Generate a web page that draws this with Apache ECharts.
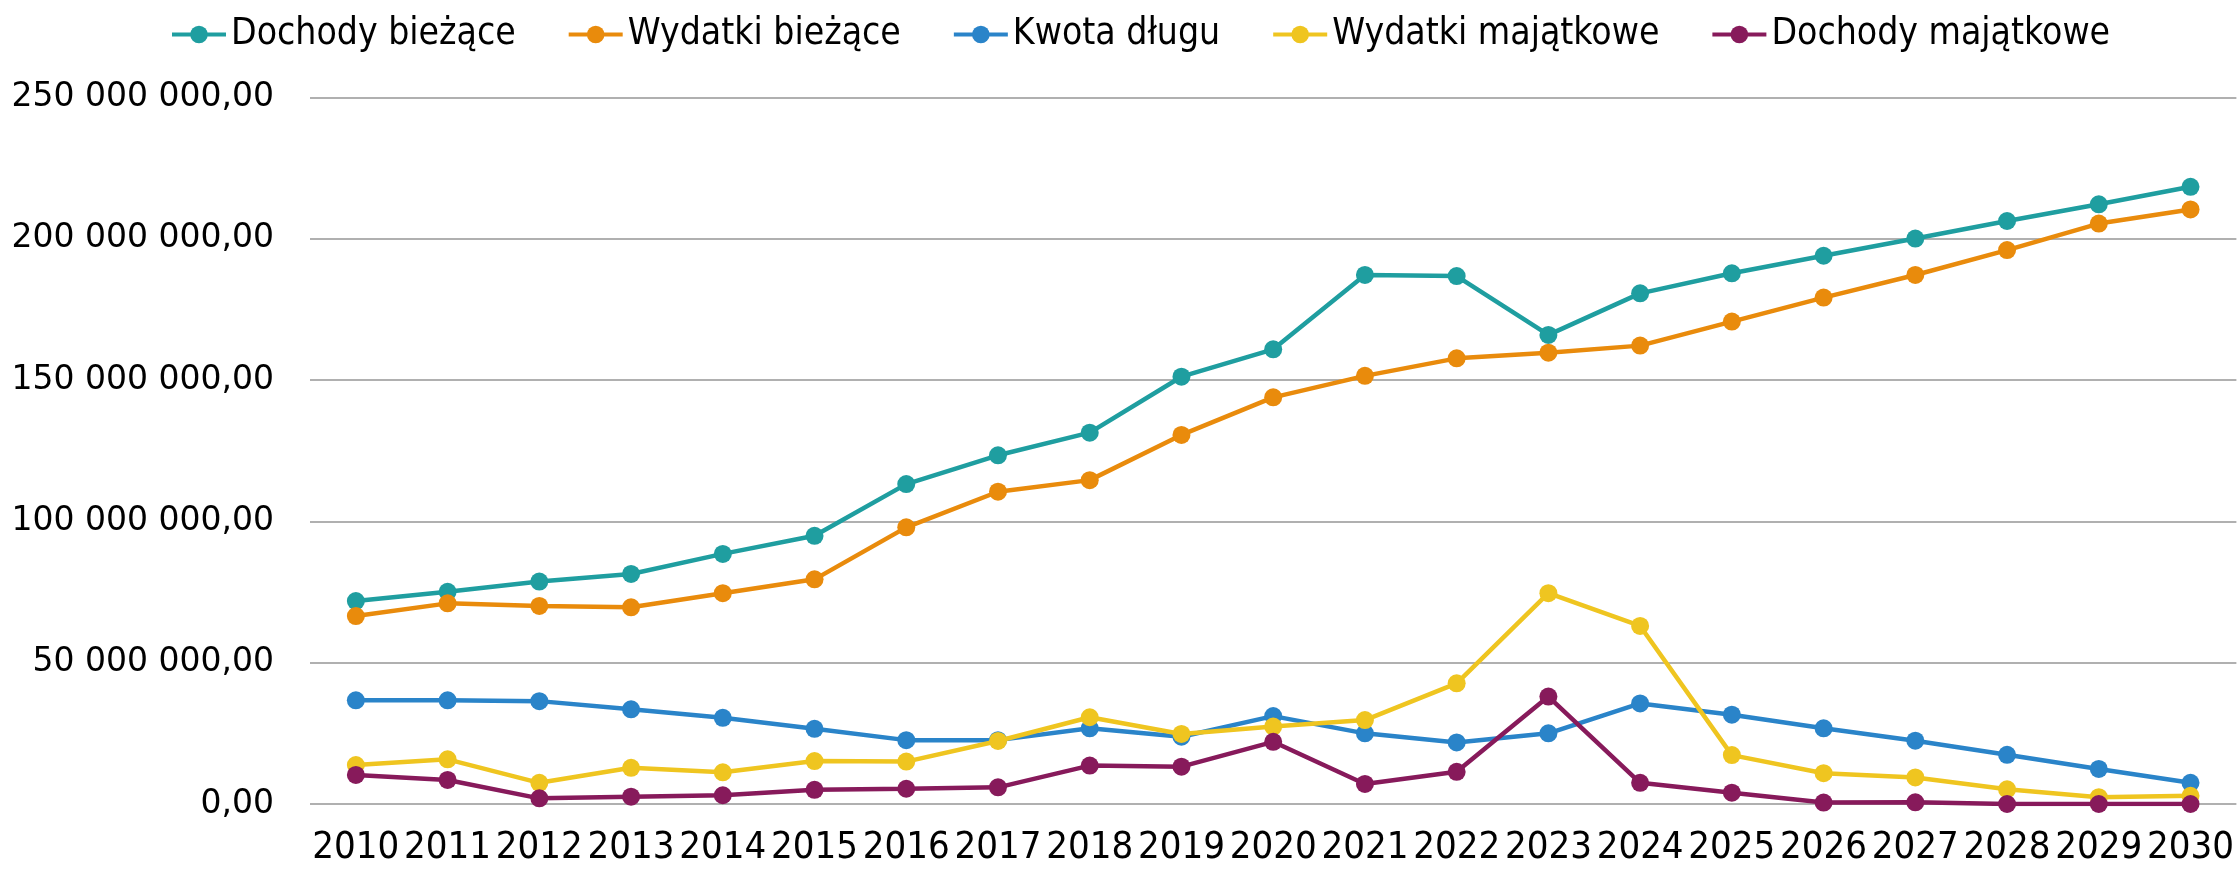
<!DOCTYPE html>
<html>
<head>
<meta charset="utf-8">
<script src="https://cdn.jsdelivr.net/npm/echarts@6/dist/echarts.min.js"></script>
<style>
  html, body { margin: 0; padding: 0; background: #ffffff; }
  #chart { width: 2237px; height: 872px; }
</style>
</head>
<body>
<div id="chart"></div>
<script>
// Budget figures per year (PLN)
const years = ['2010','2011','2012','2013','2014','2015','2016','2017','2018','2019','2020',
               '2021','2022','2023','2024','2025','2026','2027','2028','2029','2030'];

const dochodyBiezace = [71800000, 75100000, 78700000, 81400000, 88500000, 94900000, 113200000,
  123400000, 131400000, 151200000, 160900000, 187200000, 186800000, 166000000, 180700000,
  187800000, 194000000, 200100000, 206300000, 212200000, 218400000];

const wydatkiBiezace = [66500000, 71000000, 70100000, 69600000, 74600000, 79500000, 97900000,
  110500000, 114600000, 130600000, 143900000, 151500000, 157700000, 159700000, 162200000,
  170700000, 179200000, 187200000, 196000000, 205400000, 210400000];

const kwotaDlugu = [36700000, 36700000, 36400000, 33500000, 30500000, 26600000, 22600000,
  22600000, 26800000, 23800000, 31100000, 25000000, 21800000, 25000000, 35600000,
  31600000, 26800000, 22400000, 17400000, 12400000, 7500000];

const wydatkiMajatkowe = [13800000, 15800000, 7500000, 12800000, 11200000, 15200000, 15000000,
  22300000, 30700000, 24800000, 27400000, 29700000, 42700000, 74600000, 63000000,
  17300000, 10900000, 9400000, 5200000, 2400000, 2900000];

const dochodyMajatkowe = [10300000, 8500000, 2000000, 2600000, 3100000, 5000000, 5400000,
  5900000, 13600000, 13200000, 22000000, 7100000, 11400000, 38000000, 7500000,
  4000000, 500000, 600000, 0, 0, 0];

const seriesNames = ['Dochody bieżące', 'Wydatki bieżące', 'Kwota długu', 'Wydatki majątkowe', 'Dochody majątkowe'];
const seriesColors = ['#1f9ea0', '#e98b0c', '#2a84c9', '#efc520', '#871a5b'];
const seriesData = [dochodyBiezace, wydatkiBiezace, kwotaDlugu, wydatkiMajatkowe, dochodyMajatkowe];

// "250 000 000,00" style labels
function plNumber(v) {
  const s = Math.round(v).toString().replace(/\B(?=(\d{3})+(?!\d))/g, ' ');
  return s + ',00';
}

const chart = echarts.init(document.getElementById('chart'), null, { renderer: 'canvas' });

chart.setOption({
  backgroundColor: '#ffffff',
  animation: false,
  color: seriesColors,
  legend: {
    left: 165,
    top: 11,
    itemWidth: 54,
    itemHeight: 22,
    itemGap: 51,
    lineStyle: { width: 4 },
    textStyle: {
      fontFamily: 'DejaVu Sans Condensed',
      fontSize: 37,
      color: '#000000'
    },
    data: seriesNames
  },
  grid: {
    left: 310,
    right: 0,
    top: 97.5,
    bottom: 68,
    containLabel: false
  },
  xAxis: {
    type: 'category',
    data: years,
    boundaryGap: true,
    axisLine: { show: false },
    axisTick: { show: false },
    axisLabel: {
      margin: 25,
      interval: 0,
      fontFamily: 'DejaVu Sans Condensed',
      fontSize: 38,
      color: '#000000'
    },
    splitLine: { show: false }
  },
  yAxis: {
    type: 'value',
    min: 0,
    max: 250000000,
    interval: 50000000,
    axisLine: { show: false },
    axisTick: { show: false },
    axisLabel: {
      margin: 36,
      fontFamily: 'DejaVu Sans',
      fontSize: 33,
      color: '#000000',
      formatter: plNumber
    },
    splitLine: { lineStyle: { color: '#b0b0b0', width: 2 } }
  },
  series: seriesNames.map((name, i) => ({
    name: name,
    type: 'line',
    data: seriesData[i],
    symbol: 'circle',
    symbolSize: 18,
    lineStyle: { width: 4.5, color: seriesColors[i] },
    itemStyle: { color: seriesColors[i] },
    z: 2 + i
  }))
});
</script>
</body>
</html>
